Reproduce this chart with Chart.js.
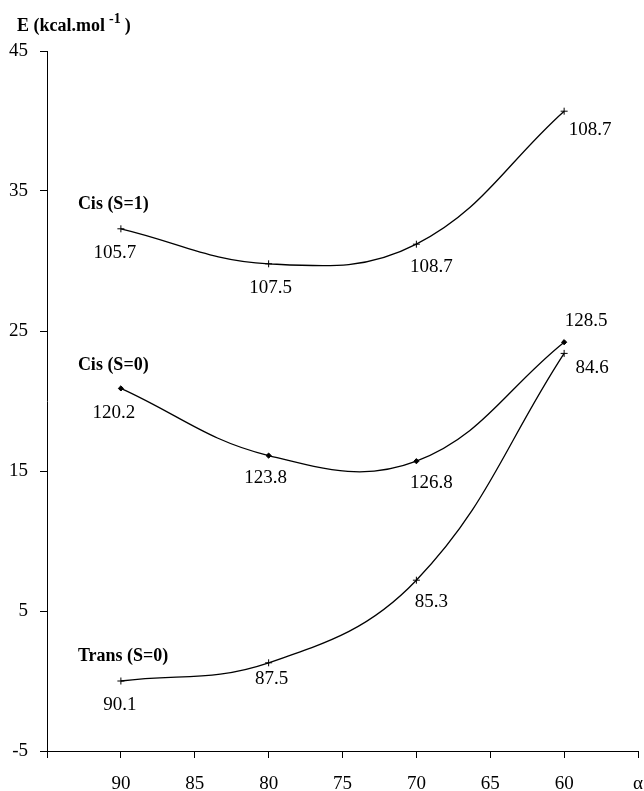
<!DOCTYPE html>
<html>
<head>
<meta charset="utf-8">
<script src="https://cdn.jsdelivr.net/npm/chart.js@4/dist/chart.umd.min.js"></script>
<style>
html,body{margin:0;padding:0;background:#fff;}
#wrap{width:644px;height:791px;position:relative;}
</style>
</head>
<body>
<div id="wrap"><canvas id="c" width="644" height="791"></canvas></div>
<script>
// ---- data ----
const alpha = [90, 80, 70, 60];
const cisS1 = [32.3, 29.8, 31.2, 40.7];
const cisS0 = [20.9, 16.1, 15.7, 24.2];
const trans = [0.0, 1.3, 7.2, 23.4];
const cisS1Labels = ['105.7', '107.5', '108.7', '108.7'];
const cisS0Labels = ['120.2', '123.8', '126.8', '128.5'];
const transLabels = ['90.1', '87.5', '85.3', '84.6'];
const seriesNames = ['Cis (S=1)', 'Cis (S=0)', 'Trans (S=0)'];
const xTickValues = [95, 90, 85, 80, 75, 70, 65, 60, 55];
const yTickValues = [-5, 5, 15, 25, 35, 45];
const yTitle = 'E (kcal.mol';
const yTitleSup = '-1';
const xTitle = 'α';

const FONT = '"Liberation Serif", "DejaVu Serif", serif';

function pts(ys) { return alpha.map((a, i) => ({x: a, y: ys[i]})); }

// label offsets (pixels, text centre relative to its point)
const labelOffsets = [
  [[-6, 24], [2, 24], [15, 23], [26, 19]],
  [[-7, 25], [-3, 22], [15, 22], [22, -21]],
  [[-1, 24], [3, 16], [15, 22], [28, 15]]
];
const nameOffsets = [[-43, -24], [-43, -23], [-43, -25]];
const pointLabels = [cisS1Labels, cisS0Labels, transLabels];

const annotate = {
  id: 'annotate',
  afterDatasetsDraw(chart) {
    const ctx = chart.ctx;
    ctx.save();
    ctx.fillStyle = '#000';
    chart.data.datasets.forEach((ds, di) => {
      const meta = chart.getDatasetMeta(di);
      ctx.font = '19px ' + FONT;
      ctx.textAlign = 'center';
      ctx.textBaseline = 'middle';
      meta.data.forEach((el, i) => {
        const o = labelOffsets[di][i];
        ctx.fillText(pointLabels[di][i], el.x + o[0], el.y + o[1]);
      });
      const first = meta.data[0];
      ctx.font = 'bold 18px ' + FONT;
      ctx.textAlign = 'left';
      ctx.fillText(seriesNames[di], first.x + nameOffsets[di][0], first.y + nameOffsets[di][1]);
    });
    // y title
    ctx.font = 'bold 18px ' + FONT;
    ctx.textAlign = 'left';
    ctx.textBaseline = 'alphabetic';
    ctx.fillText(yTitle, 17, 31);
    const w = ctx.measureText(yTitle).width;
    ctx.font = 'bold 14px ' + FONT;
    ctx.fillText(yTitleSup, 17 + w + 4, 23);
    const w2 = ctx.measureText(yTitleSup).width;
    ctx.font = 'bold 18px ' + FONT;
    ctx.fillText(')', 17 + w + 4 + w2 + 4, 31);
    ctx.restore();
  }
};

new Chart(document.getElementById('c'), {
  type: 'scatter',
  data: {
    datasets: [
      {label: seriesNames[0], data: pts(cisS1), showLine: true, tension: 0.4,
       borderColor: '#000', borderWidth: 1.3, pointStyle: 'cross', pointRadius: 3.5,
       pointBorderWidth: 1, pointBorderColor: '#000', pointBackgroundColor: '#000'},
      {label: seriesNames[1], data: pts(cisS0), showLine: true, tension: 0.4,
       borderColor: '#000', borderWidth: 1.3, pointStyle: 'rectRot', pointRadius: 2.6,
       pointBorderWidth: 1, pointBorderColor: '#000', pointBackgroundColor: '#000'},
      {label: seriesNames[2], data: pts(trans), showLine: true, tension: 0.4,
       borderColor: '#000', borderWidth: 1.3, pointStyle: 'cross', pointRadius: 3.5,
       pointBorderWidth: 1, pointBorderColor: '#000', pointBackgroundColor: '#000'}
    ]
  },
  options: {
    responsive: false,
    animation: false,
    events: [],
    layout: {padding: {top: 51, right: 6, left: 0, bottom: 0}},
    plugins: {legend: {display: false}, tooltip: {enabled: false}},
    scales: {
      x: {
        type: 'linear', min: 55, max: 95, reverse: true,
        afterBuildTicks(s) { s.ticks = xTickValues.map(v => ({value: v})); },
        afterFit(s) { s.height = 40; s.paddingRight = 0; s.paddingLeft = 0; },
        ticks: {
          color: '#000', font: {family: FONT, size: 19}, padding: 15, maxRotation: 0,
          callback: v => v === 55 ? xTitle : (v === 95 ? '' : String(v))
        },
        grid: {drawOnChartArea: false, drawTicks: true, tickLength: 7, color: '#000', lineWidth: 1},
        border: {color: '#000', width: 1}
      },
      y: {
        min: -5, max: 45,
        afterBuildTicks(s) { s.ticks = yTickValues.map(v => ({value: v})); },
        afterFit(s) { s.width = 47; s.paddingTop = 0; s.paddingBottom = 0; },
        ticks: {color: '#000', font: {family: FONT, size: 19}, padding: 12},
        grid: {drawOnChartArea: false, drawTicks: true, tickLength: 7, color: '#000', lineWidth: 1},
        border: {color: '#000', width: 1}
      }
    }
  },
  plugins: [annotate]
});
</script>
</body>
</html>
